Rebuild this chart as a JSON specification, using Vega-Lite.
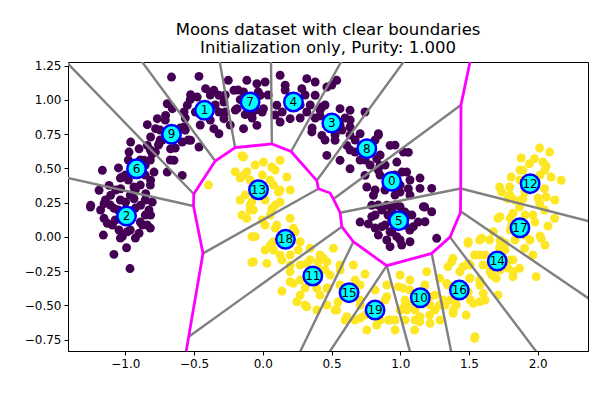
{
"$schema": "https://vega.github.io/schema/vega-lite/v6.json",
"width": 520, "height": 289, "autosize": "none",
"padding": {"left": 68, "top": 62, "right": 12, "bottom": 49},
"background": "white",
"title": {"text": ["Moons dataset with clear boundaries", "Initialization only, Purity: 1.000"], "font": "DejaVu Sans", "fontSize": 16.5, "fontWeight": "normal", "color": "black", "anchor": "middle", "offset": 3, "lineHeight": 18},
"config": {
  "view": {"stroke": "black", "strokeWidth": 1},
  "axis": {"grid": false, "labelFont": "DejaVu Sans", "labelFontSize": 12, "labelColor": "black", "tickColor": "black", "domainColor": "black", "tickSize": 4, "labelPadding": 3, "title": null}
},
"datasets": {
"pts": [
{"x":-0.664,"y":1.167,"c":0},{"x":-0.464,"y":1.172,"c":0},{"x":-0.251,"y":1.143,"c":0},{"x":-0.416,"y":1.082,"c":0},{"x":-0.356,"y":1.070,"c":0},{"x":-0.525,"y":1.038,"c":0},{"x":-0.319,"y":1.034,"c":0},{"x":-0.477,"y":1.021,"c":0},{"x":-0.283,"y":0.985,"c":0},{"x":-0.695,"y":0.972,"c":0},{"x":-0.573,"y":0.912,"c":0},{"x":-0.658,"y":0.936,"c":0},{"x":-0.707,"y":0.887,"c":0},{"x":-0.549,"y":0.961,"c":0},{"x":-0.319,"y":0.912,"c":0},{"x":-0.283,"y":0.863,"c":0},{"x":-0.356,"y":0.790,"c":0},{"x":-0.319,"y":0.753,"c":0},{"x":-0.767,"y":0.863,"c":0},{"x":-0.840,"y":0.819,"c":0},{"x":-0.780,"y":0.790,"c":0},{"x":-0.573,"y":0.802,"c":0},{"x":-0.586,"y":0.692,"c":0},{"x":-0.525,"y":0.705,"c":0},{"x":-0.464,"y":0.656,"c":0},{"x":-0.816,"y":0.729,"c":0},{"x":-0.840,"y":0.668,"c":0},{"x":-0.961,"y":0.692,"c":0},{"x":-0.755,"y":0.680,"c":0},{"x":-0.671,"y":0.643,"c":0},{"x":-0.646,"y":0.559,"c":0},{"x":-0.586,"y":0.449,"c":0},{"x":-0.695,"y":0.473,"c":0},{"x":-0.973,"y":0.619,"c":0},{"x":-0.900,"y":0.643,"c":0},{"x":-0.804,"y":0.607,"c":0},{"x":-0.864,"y":0.559,"c":0},{"x":-0.791,"y":0.473,"c":0},{"x":-0.816,"y":0.413,"c":0},{"x":-1.167,"y":0.486,"c":0},{"x":-1.022,"y":0.437,"c":0},{"x":-1.118,"y":0.376,"c":0},{"x":-1.191,"y":0.340,"c":0},{"x":-1.034,"y":0.351,"c":0},{"x":-0.937,"y":0.364,"c":0},{"x":-1.107,"y":0.303,"c":0},{"x":-0.937,"y":0.278,"c":0},{"x":-0.852,"y":0.315,"c":0},{"x":-0.804,"y":0.254,"c":0},{"x":-1.252,"y":0.230,"c":0},{"x":-1.155,"y":0.242,"c":0},{"x":-0.998,"y":0.254,"c":0},{"x":-0.889,"y":0.230,"c":0},{"x":-0.210,"y":1.070,"c":0},{"x":-0.186,"y":0.936,"c":0},
{"x":0.126,"y":1.180,"c":0},{"x":0.320,"y":1.155,"c":0},{"x":0.381,"y":1.131,"c":0},{"x":0.538,"y":1.143,"c":0},{"x":0.466,"y":1.094,"c":0},{"x":-0.116,"y":1.143,"c":0},{"x":-0.043,"y":1.118,"c":0},{"x":0.017,"y":1.131,"c":0},{"x":0.163,"y":1.107,"c":0},{"x":0.284,"y":1.082,"c":0},{"x":0.381,"y":1.034,"c":0},{"x":-0.140,"y":1.058,"c":0},{"x":-0.019,"y":1.034,"c":0},{"x":0.005,"y":0.936,"c":0},{"x":-0.079,"y":0.899,"c":0},{"x":0.102,"y":0.961,"c":0},{"x":0.126,"y":0.839,"c":0},{"x":0.199,"y":0.863,"c":0},{"x":0.320,"y":0.912,"c":0},{"x":0.430,"y":0.948,"c":0},{"x":0.562,"y":0.936,"c":0},{"x":0.357,"y":0.766,"c":0},{"x":0.430,"y":0.741,"c":0},{"x":0.526,"y":0.705,"c":0},{"x":-0.140,"y":0.790,"c":0},{"x":-0.043,"y":0.814,"c":0},{"x":0.635,"y":0.924,"c":0},{"x":0.744,"y":0.912,"c":0},{"x":0.635,"y":0.802,"c":0},{"x":0.708,"y":0.753,"c":0},{"x":0.841,"y":0.753,"c":0},{"x":0.611,"y":0.668,"c":0},{"x":0.466,"y":0.595,"c":0},{"x":0.562,"y":0.559,"c":0},{"x":0.671,"y":0.619,"c":0},{"x":0.635,"y":0.497,"c":0},{"x":0.829,"y":0.570,"c":0},{"x":0.926,"y":0.668,"c":0},{"x":1.023,"y":0.619,"c":0},{"x":0.853,"y":0.522,"c":0},{"x":0.975,"y":0.546,"c":0},{"x":0.744,"y":0.449,"c":0},{"x":0.757,"y":0.364,"c":0},{"x":0.805,"y":0.303,"c":0},{"x":0.999,"y":0.327,"c":0},{"x":1.059,"y":0.351,"c":0},{"x":1.047,"y":0.473,"c":0},{"x":0.793,"y":0.230,"c":0},{"x":0.902,"y":0.230,"c":0},
{"x":1.144,"y":0.354,"c":0},{"x":1.229,"y":0.354,"c":0},{"x":1.059,"y":0.617,"c":0},{"x":0.962,"y":0.670,"c":0},{"x":0.841,"y":0.744,"c":0},{"x":0.502,"y":1.109,"c":0},{"x":1.178,"y":0.218,"c":0},
{"x":0.768,"y":0.094,"c":0},{"x":0.866,"y":0.196,"c":0},{"x":0.866,"y":0.074,"c":0},{"x":0.926,"y":0.037,"c":0},{"x":0.841,"y":0.013,"c":0},{"x":0.902,"y":-0.023,"c":0},{"x":1.011,"y":-0.060,"c":0},{"x":1.071,"y":-0.036,"c":0},{"x":1.059,"y":0.159,"c":0},{"x":1.095,"y":0.074,"c":0},{"x":1.168,"y":0.220,"c":0},{"x":1.229,"y":0.183,"c":0},{"x":1.180,"y":0.110,"c":0},{"x":1.265,"y":-0.011,"c":0},{"x":0.926,"y":-0.072,"c":0},{"x":0.999,"y":0.220,"c":0},{"x":0.938,"y":0.123,"c":0},{"x":0.793,"y":0.147,"c":0},{"x":0.975,"y":0.001,"c":0},
{"x":-1.254,"y":0.218,"c":0},{"x":-1.155,"y":0.135,"c":0},{"x":-1.131,"y":0.099,"c":0},{"x":-1.160,"y":0.013,"c":0},{"x":-1.046,"y":0.050,"c":0},{"x":-1.022,"y":0.001,"c":0},{"x":-1.083,"y":-0.128,"c":0},{"x":-0.991,"y":-0.080,"c":0},{"x":-0.966,"y":-0.232,"c":0},{"x":-0.876,"y":0.086,"c":0},{"x":-0.840,"y":0.086,"c":0},{"x":-0.900,"y":0.026,"c":0},{"x":-0.828,"y":0.196,"c":0},{"x":-1.082,"y":0.208,"c":0},{"x":-0.985,"y":0.037,"c":0},{"x":-0.816,"y":0.159,"c":0},
{"x":-0.490,"y":0.912,"c":0},{"x":-0.346,"y":0.963,"c":0},{"x":-0.382,"y":0.853,"c":0},{"x":-0.273,"y":0.912,"c":0},{"x":-0.455,"y":0.817,"c":0},{"x":-0.564,"y":0.868,"c":0},{"x":-0.237,"y":0.817,"c":0},{"x":-0.528,"y":1.002,"c":0},{"x":-0.164,"y":1.002,"c":0},{"x":-0.128,"y":0.893,"c":0},{"x":-0.033,"y":1.058,"c":0},{"x":-0.004,"y":0.912,"c":0},{"x":-0.179,"y":1.072,"c":0},{"x":0.039,"y":1.036,"c":0},{"x":-0.077,"y":0.868,"c":0},{"x":0.308,"y":1.036,"c":0},{"x":0.141,"y":0.912,"c":0},{"x":0.272,"y":0.868,"c":0},{"x":0.345,"y":0.963,"c":0},{"x":0.163,"y":1.072,"c":0},{"x":0.417,"y":0.883,"c":0},{"x":0.577,"y":0.780,"c":0},{"x":0.453,"y":0.707,"c":0},{"x":0.599,"y":0.868,"c":0},{"x":0.359,"y":0.795,"c":0},{"x":-0.746,"y":0.780,"c":0},{"x":-0.600,"y":0.795,"c":0},{"x":-0.637,"y":0.649,"c":0},{"x":-0.759,"y":0.670,"c":0},{"x":-0.542,"y":0.707,"c":0},{"x":-0.709,"y":0.853,"c":0},{"x":-0.978,"y":0.561,"c":0},{"x":-0.855,"y":0.451,"c":0},{"x":-0.978,"y":0.415,"c":0},{"x":-0.818,"y":0.561,"c":0},{"x":-0.891,"y":0.378,"c":0},{"x":-1.050,"y":0.503,"c":0},{"x":0.672,"y":0.707,"c":0},{"x":0.817,"y":0.707,"c":0},{"x":0.708,"y":0.561,"c":0},{"x":0.854,"y":0.597,"c":0},{"x":0.635,"y":0.634,"c":0},{"x":0.853,"y":0.451,"c":0},{"x":1.013,"y":0.473,"c":0},{"x":0.962,"y":0.305,"c":0},{"x":1.071,"y":0.415,"c":0},{"x":0.889,"y":0.342,"c":0},{"x":0.911,"y":0.159,"c":0},{"x":1.034,"y":0.086,"c":0},{"x":0.940,"y":0.035,"c":0},{"x":1.085,"y":0.159,"c":0},{"x":-1.051,"y":0.196,"c":0},{"x":-0.927,"y":0.210,"c":0},{"x":-0.891,"y":0.108,"c":0},{"x":-1.094,"y":0.086,"c":0},{"x":-0.964,"y":0.050,"c":0},{"x":-1.036,"y":-0.009,"c":0},
{"x":-0.564,"y":0.779,"c":0},{"x":-0.746,"y":0.707,"c":0},{"x":-0.818,"y":0.634,"c":0},{"x":-0.891,"y":0.561,"c":0},{"x":-1.000,"y":0.451,"c":0},{"x":-1.070,"y":0.342,"c":0},{"x":-1.145,"y":0.269,"c":0},{"x":-1.180,"y":0.196,"c":0},{"x":-0.382,"y":1.036,"c":0},{"x":-0.273,"y":1.036,"c":0},{"x":-0.200,"y":0.926,"c":0},{"x":-0.055,"y":0.926,"c":0},{"x":0.090,"y":0.890,"c":0},{"x":0.272,"y":0.963,"c":0},{"x":0.417,"y":0.926,"c":0},{"x":0.562,"y":0.817,"c":0},{"x":0.635,"y":0.743,"c":0},{"x":0.745,"y":0.561,"c":0},{"x":0.840,"y":0.488,"c":0},{"x":0.999,"y":0.378,"c":0},{"x":0.962,"y":0.232,"c":0},{"x":0.889,"y":0.086,"c":0},{"x":1.070,"y":0.050,"c":0},{"x":0.999,"y":-0.023,"c":0},{"x":0.817,"y":0.159,"c":0},{"x":0.708,"y":0.108,"c":0},{"x":-0.964,"y":0.305,"c":0},{"x":-1.109,"y":0.232,"c":0},{"x":-0.855,"y":0.269,"c":0},
{"x":-0.781,"y":0.619,"c":0},{"x":-0.731,"y":0.707,"c":0},{"x":-0.855,"y":0.524,"c":0},{"x":-1.036,"y":0.429,"c":0},{"x":-0.927,"y":0.342,"c":0},{"x":-0.818,"y":0.378,"c":0},{"x":-0.673,"y":0.561,"c":0},{"x":-1.073,"y":0.123,"c":0},{"x":-0.855,"y":0.159,"c":0},{"x":-0.927,"y":-0.009,"c":0},{"x":-1.036,"y":0.269,"c":0},{"x":-0.818,"y":0.064,"c":0},{"x":0.381,"y":0.868,"c":0},{"x":0.526,"y":0.743,"c":0},{"x":0.453,"y":0.963,"c":0},{"x":0.636,"y":0.853,"c":0},{"x":0.781,"y":0.524,"c":0},{"x":0.890,"y":0.524,"c":0},{"x":0.962,"y":0.451,"c":0},{"x":0.817,"y":0.342,"c":0},{"x":1.071,"y":0.305,"c":0},{"x":1.144,"y":0.429,"c":0},{"x":0.840,"y":0.232,"c":0},{"x":0.940,"y":0.196,"c":0},{"x":1.035,"y":0.181,"c":0},{"x":1.130,"y":0.108,"c":0},{"x":0.817,"y":0.064,"c":0},
{"x":-0.140,"y":0.583,"c":1},{"x":0.005,"y":0.546,"c":1},{"x":0.126,"y":0.559,"c":1},{"x":0.066,"y":0.510,"c":1},{"x":0.175,"y":0.437,"c":1},{"x":-0.140,"y":0.449,"c":1},{"x":0.114,"y":0.327,"c":1},{"x":0.126,"y":0.254,"c":1},{"x":0.066,"y":0.205,"c":1},{"x":-0.152,"y":0.592,"c":1},{"x":-0.395,"y":0.378,"c":1},{"x":-0.201,"y":0.476,"c":1},{"x":-0.116,"y":0.476,"c":1},{"x":0.078,"y":0.378,"c":1},{"x":-0.079,"y":0.256,"c":1},
{"x":-0.068,"y":0.196,"c":1},{"x":0.054,"y":0.159,"c":1},{"x":-0.116,"y":0.135,"c":1},{"x":0.199,"y":0.135,"c":1},{"x":0.102,"y":0.086,"c":1},{"x":0.223,"y":0.062,"c":1},{"x":-0.055,"y":0.001,"c":1},{"x":0.078,"y":-0.036,"c":1},{"x":0.272,"y":-0.036,"c":1},{"x":0.344,"y":-0.084,"c":1},{"x":0.417,"y":-0.133,"c":1},{"x":0.514,"y":-0.084,"c":1},{"x":-0.079,"y":-0.186,"c":1},{"x":0.030,"y":-0.194,"c":1},{"x":0.139,"y":-0.169,"c":1},{"x":0.199,"y":-0.255,"c":1},{"x":0.466,"y":-0.182,"c":1},{"x":0.562,"y":-0.206,"c":1},{"x":0.659,"y":-0.206,"c":1},{"x":0.744,"y":-0.272,"c":1},{"x":0.223,"y":-0.340,"c":1},{"x":0.139,"y":-0.396,"c":1},{"x":0.248,"y":-0.474,"c":1},{"x":0.308,"y":-0.498,"c":1},{"x":0.393,"y":-0.535,"c":1},{"x":0.466,"y":-0.498,"c":1},{"x":0.466,"y":-0.376,"c":1},{"x":0.538,"y":-0.535,"c":1},{"x":0.611,"y":-0.584,"c":1},{"x":0.671,"y":-0.608,"c":1},{"x":0.708,"y":-0.498,"c":1},{"x":0.757,"y":-0.681,"c":1},{"x":0.829,"y":-0.644,"c":1},{"x":0.914,"y":-0.608,"c":1},{"x":0.962,"y":-0.681,"c":1},{"x":0.902,"y":-0.438,"c":1},{"x":0.902,"y":-0.352,"c":1},{"x":0.999,"y":-0.279,"c":1},{"x":1.023,"y":-0.376,"c":1},{"x":1.059,"y":-0.498,"c":1},{"x":0.393,"y":-0.376,"c":1},{"x":0.417,"y":-0.243,"c":1},{"x":0.320,"y":-0.194,"c":1},
{"x":0.441,"y":-0.157,"c":1},{"x":0.986,"y":-0.364,"c":1},{"x":1.071,"y":-0.316,"c":1},{"x":1.047,"y":-0.535,"c":1},{"x":1.144,"y":-0.584,"c":1},{"x":1.253,"y":-0.535,"c":1},{"x":1.313,"y":-0.462,"c":1},{"x":1.338,"y":-0.340,"c":1},{"x":1.193,"y":-0.255,"c":1},{"x":1.374,"y":-0.182,"c":1},{"x":1.434,"y":-0.255,"c":1},{"x":1.495,"y":-0.194,"c":1},{"x":1.495,"y":-0.036,"c":1},{"x":1.592,"y":-0.011,"c":1},{"x":1.725,"y":0.147,"c":1},{"x":1.810,"y":0.086,"c":1},{"x":1.677,"y":0.037,"c":1},{"x":1.725,"y":-0.072,"c":1},{"x":1.822,"y":-0.255,"c":1},{"x":1.653,"y":-0.255,"c":1},{"x":1.604,"y":-0.413,"c":1},{"x":1.531,"y":-0.486,"c":1},{"x":1.386,"y":-0.535,"c":1},{"x":1.217,"y":-0.632,"c":1},{"x":1.544,"y":-0.730,"c":1},{"x":1.108,"y":-0.608,"c":1},{"x":1.035,"y":-0.462,"c":1},{"x":1.217,"y":-0.438,"c":1},
{"x":1.711,"y":0.135,"c":1},{"x":1.820,"y":0.172,"c":1},{"x":1.965,"y":0.159,"c":1},{"x":2.123,"y":0.135,"c":1},{"x":2.025,"y":-0.011,"c":1},{"x":1.905,"y":-0.084,"c":1},{"x":1.965,"y":-0.133,"c":1},{"x":1.820,"y":-0.169,"c":1},{"x":1.868,"y":-0.230,"c":1},{"x":1.989,"y":-0.291,"c":1},{"x":1.820,"y":-0.291,"c":1},{"x":1.650,"y":-0.023,"c":1},{"x":1.578,"y":-0.023,"c":1},{"x":1.493,"y":-0.047,"c":1},{"x":1.723,"y":-0.084,"c":1},{"x":1.541,"y":-0.133,"c":1},{"x":1.602,"y":-0.206,"c":1},{"x":1.698,"y":-0.303,"c":1},{"x":1.384,"y":-0.157,"c":1},{"x":1.456,"y":-0.218,"c":1},{"x":1.347,"y":-0.218,"c":1},{"x":1.287,"y":-0.303,"c":1},{"x":1.578,"y":-0.316,"c":1},{"x":1.505,"y":-0.303,"c":1},{"x":1.711,"y":-0.425,"c":1},{"x":1.578,"y":-0.474,"c":1},{"x":1.408,"y":-0.498,"c":1},{"x":1.480,"y":-0.571,"c":1},{"x":1.384,"y":-0.559,"c":1},{"x":1.287,"y":-0.498,"c":1},{"x":1.214,"y":-0.571,"c":1},{"x":1.142,"y":-0.620,"c":1},{"x":1.105,"y":-0.681,"c":1},{"x":1.541,"y":-0.741,"c":1},
{"x":2.014,"y":0.649,"c":1},{"x":2.087,"y":0.619,"c":1},{"x":1.880,"y":0.576,"c":1},{"x":1.977,"y":0.571,"c":1},{"x":2.038,"y":0.546,"c":1},{"x":1.940,"y":0.534,"c":1},{"x":2.062,"y":0.517,"c":1},{"x":1.892,"y":0.486,"c":1},{"x":1.807,"y":0.437,"c":1},{"x":2.098,"y":0.437,"c":1},{"x":2.171,"y":0.413,"c":1},{"x":1.723,"y":0.364,"c":1},{"x":1.796,"y":0.364,"c":1},{"x":2.050,"y":0.351,"c":1},{"x":1.738,"y":0.327,"c":1},{"x":2.062,"y":0.291,"c":1},{"x":1.783,"y":0.278,"c":1},{"x":1.892,"y":0.278,"c":1},{"x":2.014,"y":0.242,"c":1},{"x":1.868,"y":0.218,"c":1},
{"x":2.017,"y":0.006,"c":1},{"x":2.075,"y":0.079,"c":1},{"x":1.762,"y":-0.045,"c":1},
{"x":-0.152,"y":0.159,"c":1},{"x":-0.079,"y":0.001,"c":1},{"x":-0.068,"y":-0.182,"c":1},{"x":0.320,"y":-0.511,"c":1},{"x":0.199,"y":-0.328,"c":1},{"x":0.078,"y":-0.096,"c":1},
{"x":-0.092,"y":0.415,"c":1},{"x":0.017,"y":0.269,"c":1},{"x":-0.128,"y":0.305,"c":1},{"x":0.054,"y":0.415,"c":1},{"x":-0.055,"y":0.524,"c":1},{"x":0.126,"y":0.342,"c":1},{"x":0.090,"y":0.064,"c":1},{"x":0.236,"y":0.035,"c":1},{"x":0.054,"y":-0.060,"c":1},{"x":0.258,"y":-0.096,"c":1},{"x":0.126,"y":-0.133,"c":1},{"x":-0.004,"y":0.123,"c":1},{"x":0.272,"y":-0.206,"c":1},{"x":0.453,"y":-0.243,"c":1},{"x":0.308,"y":-0.374,"c":1},{"x":0.475,"y":-0.374,"c":1},{"x":0.402,"y":-0.184,"c":1},{"x":0.562,"y":-0.352,"c":1},{"x":0.708,"y":-0.462,"c":1},{"x":0.548,"y":-0.476,"c":1},{"x":0.672,"y":-0.316,"c":1},{"x":0.744,"y":-0.571,"c":1},{"x":0.889,"y":-0.462,"c":1},{"x":0.853,"y":-0.608,"c":1},{"x":1.071,"y":-0.389,"c":1},{"x":1.217,"y":-0.498,"c":1},{"x":1.108,"y":-0.535,"c":1},{"x":1.180,"y":-0.352,"c":1},{"x":1.035,"y":-0.498,"c":1},{"x":1.347,"y":-0.352,"c":1},{"x":1.495,"y":-0.403,"c":1},{"x":1.398,"y":-0.476,"c":1},{"x":1.508,"y":-0.301,"c":1},{"x":1.617,"y":-0.133,"c":1},{"x":1.784,"y":-0.228,"c":1},{"x":1.668,"y":-0.279,"c":1},{"x":1.762,"y":-0.096,"c":1},{"x":1.799,"y":0.137,"c":1},{"x":1.944,"y":-0.023,"c":1},{"x":1.980,"y":0.108,"c":1},{"x":1.835,"y":-0.023,"c":1},{"x":1.871,"y":0.415,"c":1},{"x":2.016,"y":0.451,"c":1},{"x":1.907,"y":0.327,"c":1},{"x":2.002,"y":0.283,"c":1},
{"x":0.200,"y":-0.133,"c":1},{"x":0.272,"y":-0.316,"c":1},{"x":0.417,"y":-0.426,"c":1},{"x":0.526,"y":-0.535,"c":1},{"x":0.599,"y":-0.608,"c":1},{"x":0.708,"y":-0.594,"c":1},{"x":0.926,"y":-0.608,"c":1},{"x":0.999,"y":-0.535,"c":1},{"x":1.290,"y":-0.608,"c":1},{"x":1.362,"y":-0.462,"c":1},{"x":1.510,"y":-0.462,"c":1},{"x":1.580,"y":-0.352,"c":1},{"x":1.650,"y":-0.206,"c":1},{"x":1.726,"y":-0.023,"c":1},{"x":1.800,"y":0.050,"c":1},{"x":1.908,"y":0.013,"c":1},{"x":2.050,"y":0.196,"c":1},{"x":2.125,"y":0.269,"c":1},{"x":1.835,"y":0.269,"c":1},{"x":-0.092,"y":0.196,"c":1},{"x":0.017,"y":0.086,"c":1},{"x":-0.164,"y":0.269,"c":1},{"x":0.090,"y":0.488,"c":1},{"x":0.200,"y":0.342,"c":1},
{"x":-0.164,"y":0.429,"c":1},{"x":-0.003,"y":0.451,"c":1},{"x":0.090,"y":0.232,"c":1},{"x":-0.092,"y":0.232,"c":1},{"x":0.017,"y":-0.096,"c":1},{"x":0.200,"y":-0.206,"c":1},{"x":0.345,"y":-0.169,"c":1},{"x":0.272,"y":-0.426,"c":1},{"x":0.490,"y":-0.279,"c":1},{"x":0.563,"y":-0.243,"c":1},{"x":0.708,"y":-0.352,"c":1},{"x":0.817,"y":-0.389,"c":1},{"x":0.962,"y":-0.608,"c":1},{"x":1.035,"y":-0.608,"c":1},{"x":1.253,"y":-0.426,"c":1},{"x":1.326,"y":-0.498,"c":1},{"x":1.508,"y":-0.206,"c":1},{"x":1.581,"y":-0.133,"c":1},{"x":1.726,"y":-0.243,"c":1},{"x":1.799,"y":-0.169,"c":1},{"x":1.617,"y":-0.462,"c":1},{"x":1.908,"y":0.159,"c":1},{"x":2.053,"y":-0.060,"c":1},{"x":1.871,"y":0.488,"c":1},{"x":2.053,"y":0.488,"c":1},{"x":1.799,"y":0.305,"c":1}
],
"segs": [
{"x":-1.472,"y":1.322,"x2":-0.502,"y2":0.313},
{"x":-1.545,"y":0.458,"x2":-0.504,"y2":0.225},
{"x":-0.942,"y":1.365,"x2":-0.346,"y2":0.554},
{"x":-0.329,"y":1.365,"x2":-0.201,"y2":0.651},
{"x":0.059,"y":1.365,"x2":0.066,"y2":0.679},
{"x":0.618,"y":1.365,"x2":0.206,"y2":0.623},
{"x":1.088,"y":1.365,"x2":0.393,"y2":0.411},
{"x":1.442,"y":0.963,"x2":0.514,"y2":0.276},
{"x":0.563,"y":0.176,"x2":1.440,"y2":0.353},
{"x":1.440,"y":0.353,"x2":2.452,"y2":0.094},
{"x":1.444,"y":0.183,"x2":2.452,"y2":-0.506},
{"x":1.362,"y":-0.002,"x2":2.091,"y2":-0.973},
{"x":1.229,"y":-0.121,"x2":1.397,"y2":-0.973},
{"x":0.902,"y":-0.211,"x2":1.107,"y2":-0.973},
{"x":0.902,"y":-0.211,"x2":0.398,"y2":-0.973},
{"x":0.659,"y":-0.036,"x2":0.207,"y2":-0.973},
{"x":0.575,"y":0.074,"x2":-0.539,"y2":-0.730},
{"x":-0.435,"y":-0.121,"x2":0.405,"y2":0.351}
],
"bnd": [
{"i":1,"x":-0.571,"y":-0.915},{"i":2,"x":-0.539,"y":-0.730},{"i":3,"x":-0.435,"y":-0.121},{"i":4,"x":-0.504,"y":0.225},{"i":5,"x":-0.502,"y":0.313},{"i":6,"x":-0.346,"y":0.554},{"i":7,"x":-0.201,"y":0.651},{"i":8,"x":0.066,"y":0.679},{"i":9,"x":0.206,"y":0.623},{"i":10,"x":0.393,"y":0.411},{"i":11,"x":0.405,"y":0.351},{"i":12,"x":0.490,"y":0.320},{"i":13,"x":0.514,"y":0.276},{"i":14,"x":0.563,"y":0.176},{"i":15,"x":0.575,"y":0.074},{"i":16,"x":0.659,"y":-0.036},{"i":17,"x":0.902,"y":-0.211},{"i":18,"x":1.229,"y":-0.121},{"i":19,"x":1.362,"y":-0.002},{"i":20,"x":1.438,"y":0.178},{"i":21,"x":1.440,"y":0.353},{"i":22,"x":1.442,"y":0.963},{"i":23,"x":1.518,"y":1.328}
],
"cents": [
{"id":0,"x":0.938,"y":0.405},{"id":1,"x":-0.424,"y":0.924},{"id":2,"x":-0.991,"y":0.152},{"id":3,"x":0.502,"y":0.831},{"id":4,"x":0.223,"y":0.985},{"id":5,"x":0.989,"y":0.118},{"id":6,"x":-0.918,"y":0.497},{"id":7,"x":-0.092,"y":0.985},{"id":8,"x":0.757,"y":0.644},{"id":9,"x":-0.664,"y":0.749},{"id":10,"x":1.146,"y":-0.445},{"id":11,"x":0.364,"y":-0.286},{"id":12,"x":1.945,"y":0.388},{"id":13,"x":-0.031,"y":0.344},{"id":14,"x":1.706,"y":-0.177},{"id":15,"x":0.628,"y":-0.408},{"id":16,"x":1.430,"y":-0.389},{"id":17,"x":1.871,"y":0.066},{"id":18,"x":0.165,"y":-0.018},{"id":19,"x":0.817,"y":-0.535}
]
},
"encoding": {
  "x": {"field": "x", "type": "quantitative", "scale": {"domain": [-1.417, 2.366], "nice": false, "zero": false}, "axis": {"values": [-1, -0.5, 0, 0.5, 1, 1.5, 2], "format": ".1f"}},
  "y": {"field": "y", "type": "quantitative", "scale": {"domain": [-0.834, 1.277], "nice": false, "zero": false}, "axis": {"values": [-0.75, -0.5, -0.25, 0, 0.25, 0.5, 0.75, 1, 1.25], "format": ".2f"}}
},
"layer": [
  {"data": {"name": "pts"}, "mark": {"type": "circle", "size": 80, "opacity": 1, "clip": true},
   "encoding": {"color": {"field": "c", "type": "nominal", "scale": {"domain": [0, 1], "range": ["#440154", "#fde725"]}, "legend": null}}},
  {"data": {"name": "segs"}, "mark": {"type": "rule", "color": "#808080", "strokeWidth": 2.4, "clip": true},
   "encoding": {"x2": {"field": "x2"}, "y2": {"field": "y2"}}},
  {"data": {"name": "bnd"}, "mark": {"type": "line", "color": "#ff00ff", "strokeWidth": 2.8, "clip": true},
   "encoding": {"order": {"field": "i", "type": "quantitative"}}},
  {"data": {"name": "cents"}, "mark": {"type": "circle", "size": 340, "fill": "#00ffff", "stroke": "#0000ff", "strokeWidth": 2.5, "opacity": 1}},
  {"data": {"name": "cents"}, "mark": {"type": "text", "font": "DejaVu Sans", "fontSize": 12, "color": "black", "align": "center", "baseline": "middle"},
   "encoding": {"text": {"field": "id", "type": "nominal"}}}
]
}
